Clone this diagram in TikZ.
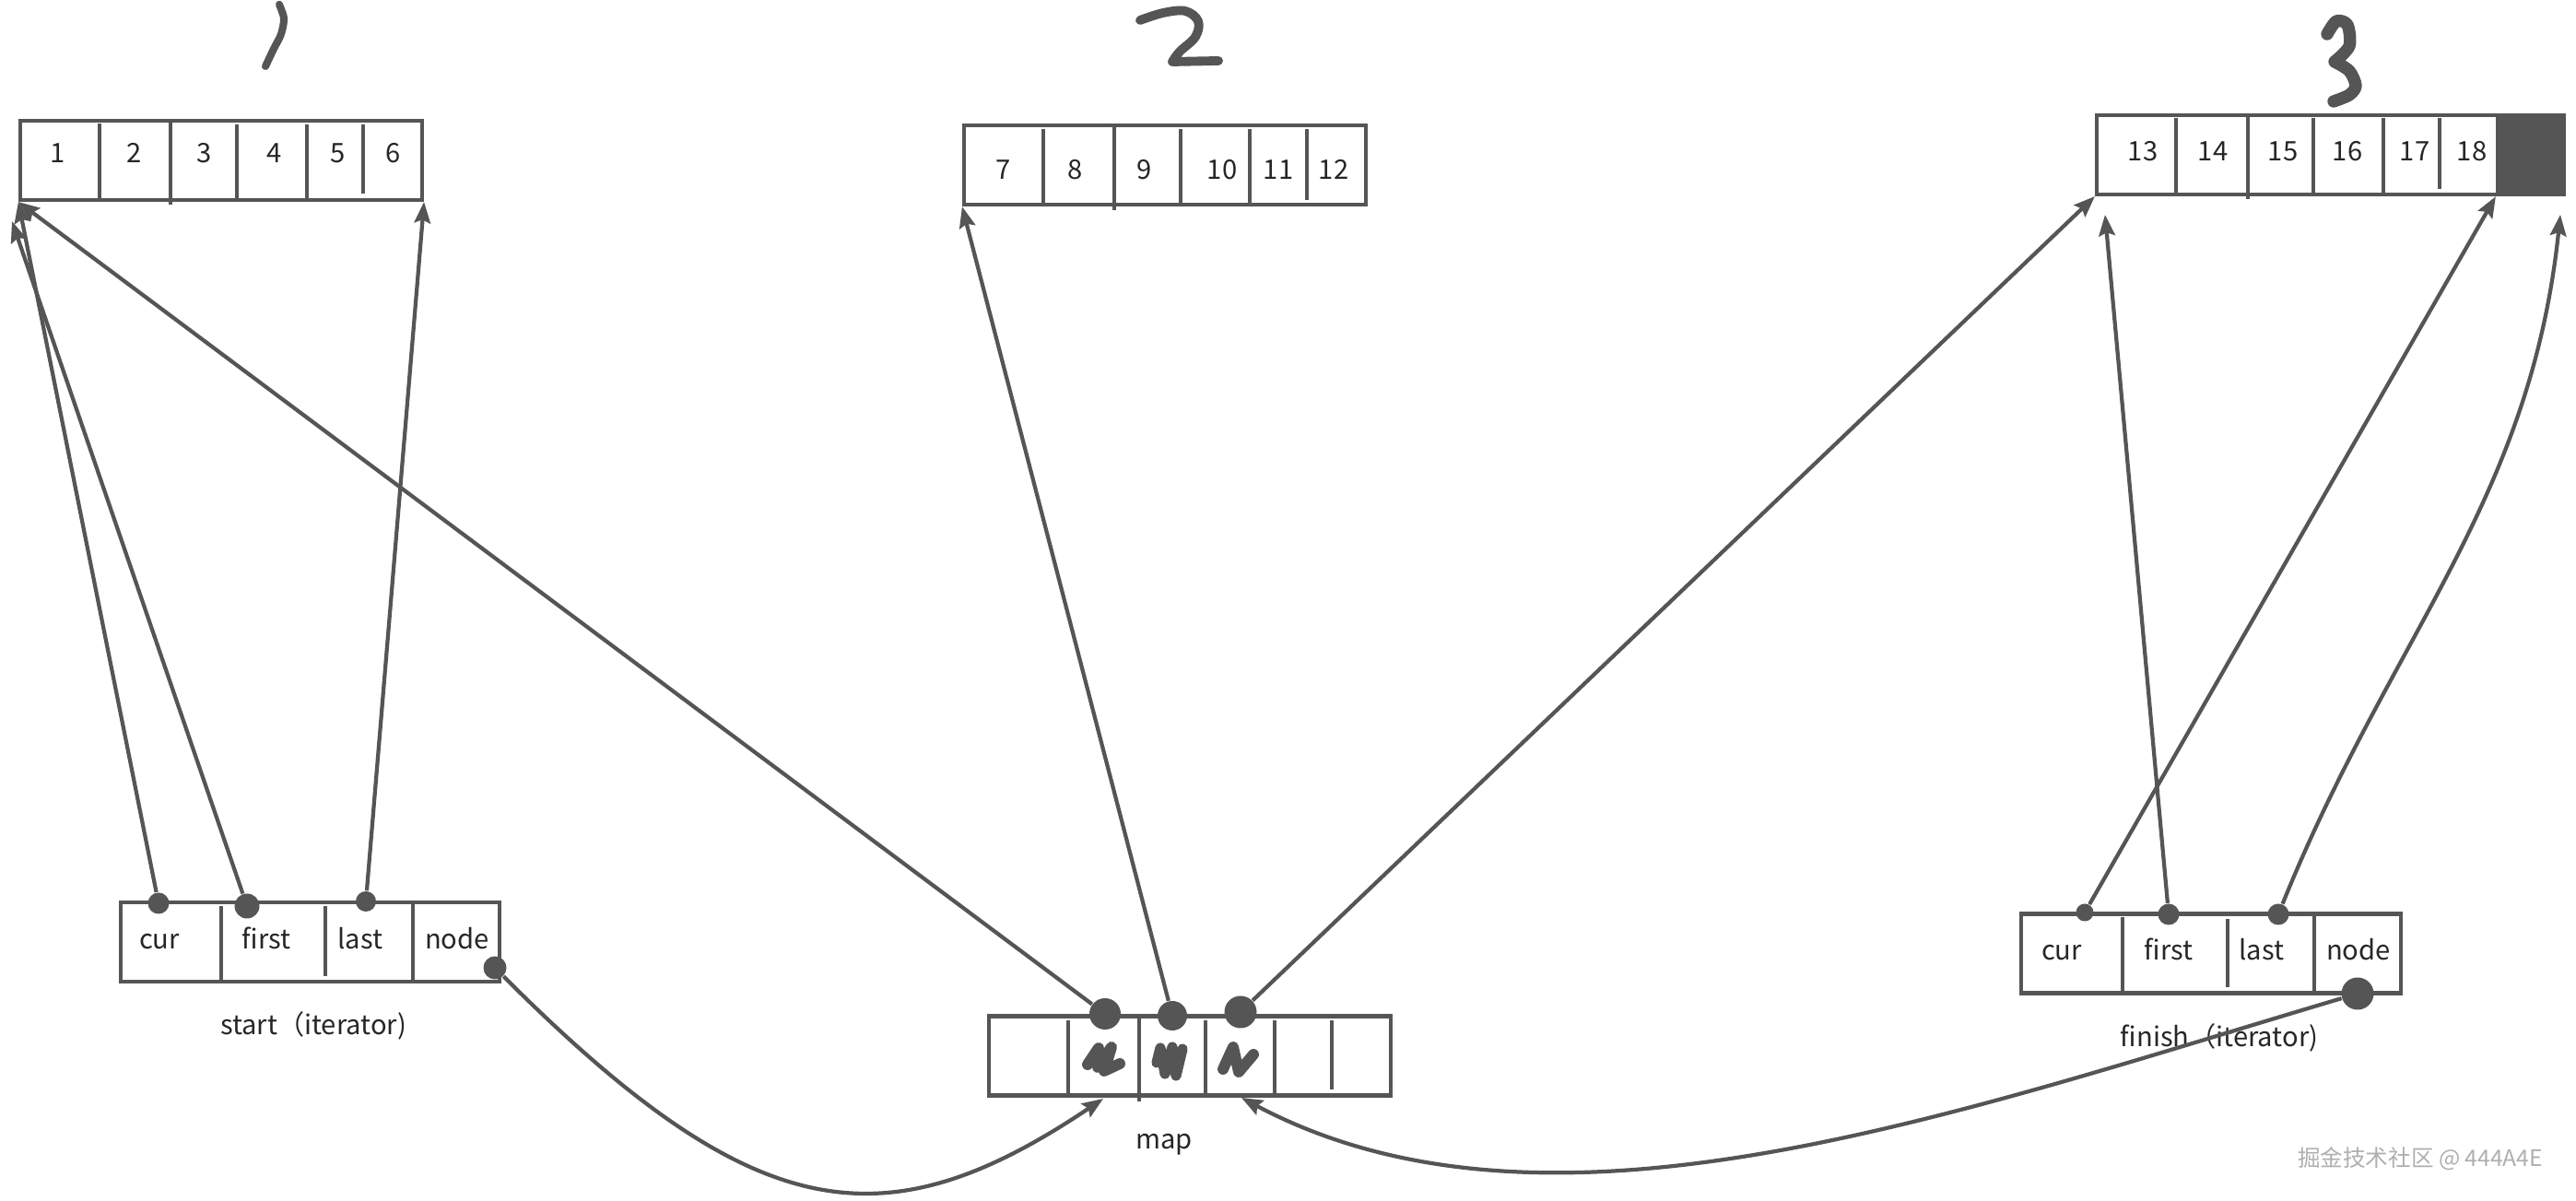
\documentclass[tikz,border=0pt]{standalone}
\usepackage{fontspec}
\setmainfont{Noto Sans CJK SC}
\usetikzlibrary{arrows.meta}
\definecolor{ink}{RGB}{85,85,85}
\definecolor{mark}{RGB}{175,175,175}

\begin{document}
\begin{tikzpicture}[font=\fontsize{8.3}{10}\selectfont]

	\tikzstyle{frame} = [draw=ink, rectangle, line width=1.2pt, minimum height=0.86cm, inner sep=0pt]
	\tikzstyle{field} = [anchor=base, text=black!85, inner sep=0pt]
	\tikzstyle{divider} = [draw=ink, line width=1.2pt]
	\tikzstyle{pin} = [circle, fill=ink, inner sep=0pt]
	\tikzstyle{ptr} = [-{Stealth[length=6.5pt, width=5pt, inset=1pt]}, line width=1.2pt, draw=ink]
	\tikzstyle{hand} = [draw=ink, line cap=round, line join=round]

	\fill[white] (0,0) rectangle (27.95,13.03);
	\useasboundingbox (0,0) rectangle (27.95,13.03);

	% hand written block numbers
	\draw[hand, line width=2.3pt] plot[smooth] coordinates {(3.03,12.98) (3.08,12.83) (3.05,12.66) (2.97,12.50) (2.88,12.31)};
	\draw[hand, line width=2.8pt] plot[smooth, tension=0.6] coordinates {(12.37,12.81) (12.62,12.89) (12.86,12.91) (13.00,12.80) (12.97,12.63) (12.80,12.47) (12.72,12.36)} -- (13.22,12.37);
	\draw[hand, line width=3.8pt] plot[smooth] coordinates {(25.25,12.66) (25.35,12.80) (25.47,12.76) (25.49,12.53) (25.33,12.36)}
		plot[smooth] coordinates {(25.33,12.36) (25.49,12.26) (25.56,12.10) (25.49,12.00) (25.32,11.93)};

	% buffer 1
	\node[frame, minimum width=4.36cm] (arr1) at (2.40,11.29) {};
	\draw[divider] (1.08,11.69) -- (1.08,10.88);
	\draw[divider] (1.85,11.71) -- (1.85,10.81);
	\draw[divider] (2.57,11.68) -- (2.57,10.88);
	\draw[divider] (3.33,11.68) -- (3.33,10.85);
	\draw[divider] (3.94,11.68) -- (3.94,10.93);
	\node[field] (c1) at (0.63,11.26) {1};
	\node[field] (c2) at (1.46,11.26) {2};
	\node[field] (c3) at (2.22,11.26) {3};
	\node[field] (c4) at (2.98,11.26) {4};
	\node[field] (c5) at (3.67,11.26) {5};
	\node[field] (c6) at (4.27,11.26) {6};

	% buffer 2
	\node[frame, minimum width=4.36cm] (arr2) at (12.64,11.24) {};
	\draw[divider] (11.32,11.63) -- (11.32,10.81);
	\draw[divider] (12.09,11.66) -- (12.09,10.75);
	\draw[divider] (12.81,11.63) -- (12.81,10.81);
	\draw[divider] (13.56,11.63) -- (13.56,10.81);
	\draw[divider] (14.18,11.63) -- (14.18,10.86);
	\node[field] (c7) at (10.89,11.08) {7};
	\node[field] (c8) at (11.67,11.08) {8};
	\node[field] (c9) at (12.42,11.08) {9};
	\node[field] (c10) at (13.26,11.08) {10};
	\node[field] (c11) at (13.87,11.08) {11};
	\node[field] (c12) at (14.47,11.08) {12};

	% buffer 3
	\node[frame, minimum width=5.07cm] (arr3) at (25.285,11.35) {};
	\node[frame, fill=ink, minimum width=0.72cm] (blk) at (27.46,11.35) {};
	\draw[divider] (23.61,11.75) -- (23.61,10.92);
	\draw[divider] (24.39,11.78) -- (24.39,10.87);
	\draw[divider] (25.10,11.75) -- (25.10,10.92);
	\draw[divider] (25.86,11.75) -- (25.86,10.92);
	\draw[divider] (26.47,11.75) -- (26.47,10.98);
	\node[field] (c13) at (23.25,11.28) {13};
	\node[field] (c14) at (24.01,11.28) {14};
	\node[field] (c15) at (24.77,11.28) {15};
	\node[field] (c16) at (25.47,11.28) {16};
	\node[field] (c17) at (26.20,11.28) {17};
	\node[field] (c18) at (26.82,11.28) {18};

	% start iterator
	\node[frame, minimum width=4.11cm] (start) at (3.365,2.81) {};
	\draw[divider] (2.40,3.20) -- (2.40,2.38);
	\draw[divider] (3.53,3.20) -- (3.53,2.44);
	\draw[divider] (4.48,3.24) -- (4.48,2.38);
	\node[field] (s_cur) at (1.73,2.73) {cur};
	\node[field] (s_first) at (2.89,2.73) {first};
	\node[field] (s_last) at (3.91,2.73) {last};
	\node[field] (s_node) at (4.96,2.73) {node};
	\node[field] (start_cap) at (3.40,1.80) {start（iterator)};

	% finish iterator
	\node[frame, minimum width=4.12cm] (finish) at (23.99,2.685) {};
	\draw[divider] (23.03,3.08) -- (23.03,2.26);
	\draw[divider] (24.17,3.06) -- (24.17,2.32);
	\draw[divider] (25.11,3.11) -- (25.11,2.26);
	\node[field] (f_cur) at (22.37,2.61) {cur};
	\node[field] (f_first) at (23.53,2.61) {first};
	\node[field] (f_last) at (24.54,2.61) {last};
	\node[field] (f_node) at (25.59,2.61) {node};
	\node[field] (finish_cap) at (24.08,1.67) {finish（iterator)};

	% map
	\node[frame, minimum width=4.36cm] (map) at (12.91,1.575) {};
	\draw[divider] (11.59,1.96) -- (11.59,1.15);
	\draw[divider] (12.36,2.00) -- (12.36,1.08);
	\draw[divider] (13.08,1.96) -- (13.08,1.15);
	\draw[divider] (13.83,1.96) -- (13.83,1.13);
	\draw[divider] (14.45,1.96) -- (14.45,1.21);
	\draw[hand, line width=3.4pt] (11.80,1.48) -- (11.92,1.66) -- (11.91,1.45) -- (12.06,1.67) -- (11.98,1.41) -- (12.15,1.49);
	\draw[hand, line width=3.2pt] (12.55,1.50) -- (12.59,1.66) -- (12.64,1.38) -- (12.72,1.67) -- (12.76,1.36) -- (12.83,1.65);
	\draw[hand, line width=3.4pt] (13.27,1.43) -- (13.38,1.67) -- (13.44,1.40) -- (13.60,1.59);
	\node[field] (map_cap) at (12.63,0.56) {map};

	\node[text=mark, font=\fontsize{7}{8}\selectfont] (watermark) at (26.26,0.46) {掘金技术社区 @ 444A4E};

	% pointer dots
	\node[pin, minimum size=0.23cm] (s_cur_dot) at (1.72,3.23) {};
	\node[pin, minimum size=0.27cm] (s_first_dot) at (2.68,3.20) {};
	\node[pin, minimum size=0.22cm] (s_last_dot) at (3.97,3.25) {};
	\node[pin, minimum size=0.25cm] (s_node_dot) at (5.37,2.53) {};
	\node[pin, minimum size=0.34cm] (m_dot1) at (11.99,2.03) {};
	\node[pin, minimum size=0.32cm] (m_dot2) at (12.72,2.01) {};
	\node[pin, minimum size=0.35cm] (m_dot3) at (13.46,2.05) {};
	\node[pin, minimum size=0.19cm] (f_cur_dot) at (22.62,3.13) {};
	\node[pin, minimum size=0.23cm] (f_first_dot) at (23.53,3.11) {};
	\node[pin, minimum size=0.23cm] (f_last_dot) at (24.72,3.11) {};
	\node[pin, minimum size=0.35cm] (f_node_dot) at (25.58,2.25) {};

	\coordinate (arr1_low) at (0.13,10.63);
	\coordinate (arr3_low) at (22.84,10.70);
	\coordinate (arr3_right) at (27.78,10.70);
	\coordinate (map_in_l) at (11.97,1.11);
	\coordinate (map_in_r) at (13.47,1.12);

	\draw[ptr] (s_cur_dot) -- (arr1.south west);
	\draw[ptr] (s_first_dot) -- (arr1_low);
	\draw[ptr] (s_last_dot) -- (arr1.south east);
	\draw[ptr] (s_node_dot) .. controls (8.2,-0.30) and (9.6,-0.48) .. (map_in_l);

	\draw[ptr] (m_dot1) -- (arr1.south west);
	\draw[ptr] (m_dot2) -- (arr2.south west);
	\draw[ptr] (m_dot3) -- (arr3.south west);

	\draw[ptr] (f_cur_dot) -- (blk.south west);
	\draw[ptr] (f_first_dot) -- (arr3_low);
	\draw[ptr] (f_last_dot) to[out=68, in=-96] (arr3_right);
	\draw[ptr] (f_node_dot) .. controls (21.2,0.95) and (16.8,-0.65) .. (map_in_r);

\end{tikzpicture}
\end{document}
